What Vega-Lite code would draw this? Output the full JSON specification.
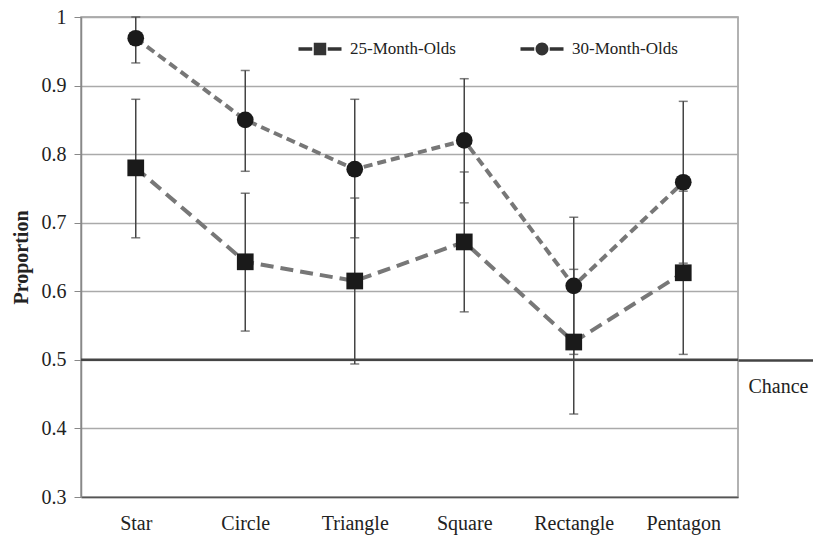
{
  "$schema": "https://vega.github.io/schema/vega-lite/v6.json",
  "width": 657,
  "height": 480,
  "autosize": "none",
  "padding": {"left": 81, "top": 17, "right": 75, "bottom": 38},
  "background": "white",
  "config": {
    "font": "Liberation Serif",
    "view": {"stroke": "#999", "strokeWidth": 1.5},
    "axis": {"labelFont": "Liberation Serif", "titleFont": "Liberation Serif", "labelColor": "#222", "titleColor": "#222"}
  },
  "data": {
    "values": [
      {"shape": "Star", "group": "25-Month-Olds", "value": 0.78, "lo": 0.678, "hi": 0.88},
      {"shape": "Star", "group": "30-Month-Olds", "value": 0.969, "lo": 0.933, "hi": 1.0},
      {"shape": "Circle", "group": "25-Month-Olds", "value": 0.643, "lo": 0.542, "hi": 0.743},
      {"shape": "Circle", "group": "30-Month-Olds", "value": 0.85, "lo": 0.775, "hi": 0.922},
      {"shape": "Triangle", "group": "25-Month-Olds", "value": 0.615, "lo": 0.494, "hi": 0.736},
      {"shape": "Triangle", "group": "30-Month-Olds", "value": 0.778, "lo": 0.678, "hi": 0.88},
      {"shape": "Square", "group": "25-Month-Olds", "value": 0.672, "lo": 0.57, "hi": 0.774},
      {"shape": "Square", "group": "30-Month-Olds", "value": 0.82, "lo": 0.729, "hi": 0.91},
      {"shape": "Rectangle", "group": "25-Month-Olds", "value": 0.526, "lo": 0.421, "hi": 0.632},
      {"shape": "Rectangle", "group": "30-Month-Olds", "value": 0.608, "lo": 0.508, "hi": 0.708},
      {"shape": "Pentagon", "group": "25-Month-Olds", "value": 0.627, "lo": 0.508, "hi": 0.746},
      {"shape": "Pentagon", "group": "30-Month-Olds", "value": 0.759, "lo": 0.641, "hi": 0.877}
    ]
  },
  "layer": [
    {
      "mark": {"type": "rule", "color": "#444", "strokeWidth": 1.5},
      "encoding": {
        "x": {
          "field": "shape", "type": "nominal",
          "sort": ["Star", "Circle", "Triangle", "Square", "Rectangle", "Pentagon"],
          "scale": {"type": "point", "padding": 0.5},
          "axis": {"title": null, "ticks": false, "labelFontSize": 20, "labelPadding": 16, "labelAngle": 0, "domainColor": "#555", "domainWidth": 1.5, "grid": false}
        },
        "y": {
          "field": "lo", "type": "quantitative",
          "scale": {"domain": [0.3, 1], "zero": false, "nice": false},
          "axis": {
            "orient": "left",
            "title": "Proportion", "titleFontSize": 20, "titleFontWeight": "bold", "titlePadding": 10,
            "values": [0.3, 0.4, 0.5, 0.6, 0.7, 0.8, 0.9, 1], "format": "~g",
            "labelFontSize": 20, "labelPadding": 8, "tickSize": 7, "tickColor": "#888",
            "domainColor": "#888", "domainWidth": 1.5, "grid": true, "gridColor": "#aaa", "gridWidth": 1.5
          }
        },
        "y2": {"field": "hi"}
      }
    },
    {
      "data": {"values": [{}]},
      "mark": {"type": "rule", "color": "#444", "strokeWidth": 2.5},
      "encoding": {
        "y": {
          "datum": 0.5,
          "type": "quantitative",
          "scale": {"domain": [0.3, 1], "zero": false, "nice": false},
          "axis": {
            "orient": "right", "values": [0.5], "labelExpr": "'Chance'",
            "tickSize": 75, "tickColor": "#444", "tickWidth": 2.5,
            "domain": false, "grid": false, "labelPadding": -65,
            "labelFontSize": 20, "labelBaseline": "middle", "labelOffset": 27,
            "labelAlign": "left", "title": null
          }
        }
      }
    },
    {
      "mark": {"type": "tick", "orient": "horizontal", "size": 9, "thickness": 1.5, "color": "#444"},
      "encoding": {
        "x": {"field": "shape", "type": "nominal", "sort": ["Star", "Circle", "Triangle", "Square", "Rectangle", "Pentagon"], "scale": {"type": "point", "padding": 0.5}},
        "y": {"field": "lo", "type": "quantitative", "scale": {"domain": [0.3, 1], "zero": false, "nice": false}, "axis": null}
      }
    },
    {
      "mark": {"type": "tick", "orient": "horizontal", "size": 9, "thickness": 1.5, "color": "#444"},
      "encoding": {
        "x": {"field": "shape", "type": "nominal", "sort": ["Star", "Circle", "Triangle", "Square", "Rectangle", "Pentagon"], "scale": {"type": "point", "padding": 0.5}},
        "y": {"field": "hi", "type": "quantitative", "scale": {"domain": [0.3, 1], "zero": false, "nice": false}, "axis": null}
      }
    },
    {
      "mark": {"type": "line", "color": "#777", "strokeWidth": 4},
      "encoding": {
        "x": {"field": "shape", "type": "nominal", "sort": ["Star", "Circle", "Triangle", "Square", "Rectangle", "Pentagon"], "scale": {"type": "point", "padding": 0.5}},
        "y": {"field": "value", "type": "quantitative", "scale": {"domain": [0.3, 1], "zero": false, "nice": false}, "axis": null},
        "strokeDash": {"field": "group", "type": "nominal", "scale": {"domain": ["25-Month-Olds", "30-Month-Olds"], "range": [[13, 7], [9, 5]]}, "legend": null}
      }
    },
    {
      "mark": {"type": "point", "filled": true, "color": "#1a1a1a", "opacity": 1, "size": 280},
      "encoding": {
        "x": {"field": "shape", "type": "nominal", "sort": ["Star", "Circle", "Triangle", "Square", "Rectangle", "Pentagon"], "scale": {"type": "point", "padding": 0.5}},
        "y": {"field": "value", "type": "quantitative", "scale": {"domain": [0.3, 1], "zero": false, "nice": false}, "axis": null},
        "shape": {"field": "group", "type": "nominal", "scale": {"domain": ["25-Month-Olds", "30-Month-Olds"], "range": ["square", "circle"]}, "legend": null}
      }
    },
    {
      "mark": {"type": "point", "filled": true, "color": "#333", "opacity": 0},
      "encoding": {
        "x": {"field": "shape", "type": "nominal", "sort": ["Star", "Circle", "Triangle", "Square", "Rectangle", "Pentagon"], "scale": {"type": "point", "padding": 0.5}},
        "y": {"field": "value", "type": "quantitative", "scale": {"domain": [0.3, 1], "zero": false, "nice": false}, "axis": null},
        "shape": {
          "field": "group", "type": "nominal",
          "scale": {
            "domain": ["25-Month-Olds", "30-Month-Olds"],
            "range": [
              "M-1,-0.08H-0.36V0.08H-1Z M0.36,-0.08H1V0.08H0.36Z M-0.29,-0.29H0.29V0.29H-0.29Z",
              "M-1,-0.08H-0.36V0.08H-1Z M0.36,-0.08H1V0.08H0.36Z M-0.3,0A0.3,0.3 0 1,1 0.3,0A0.3,0.3 0 1,1 -0.3,0Z"
            ]
          },
          "legend": {
            "title": null, "orient": "none", "legendX": 217, "legendY": 10, "direction": "horizontal",
            "labelFontSize": 17, "labelFont": "Liberation Serif", "labelColor": "#222",
            "symbolSize": 1850, "symbolOpacity": 1, "symbolFillColor": "#333", "symbolStrokeWidth": 0,
            "columnPadding": 64, "labelOffset": 8
          }
        }
      }
    }
  ],
  "resolve": {"axis": {"y": "independent"}, "scale": {"shape": "independent"}}
}
